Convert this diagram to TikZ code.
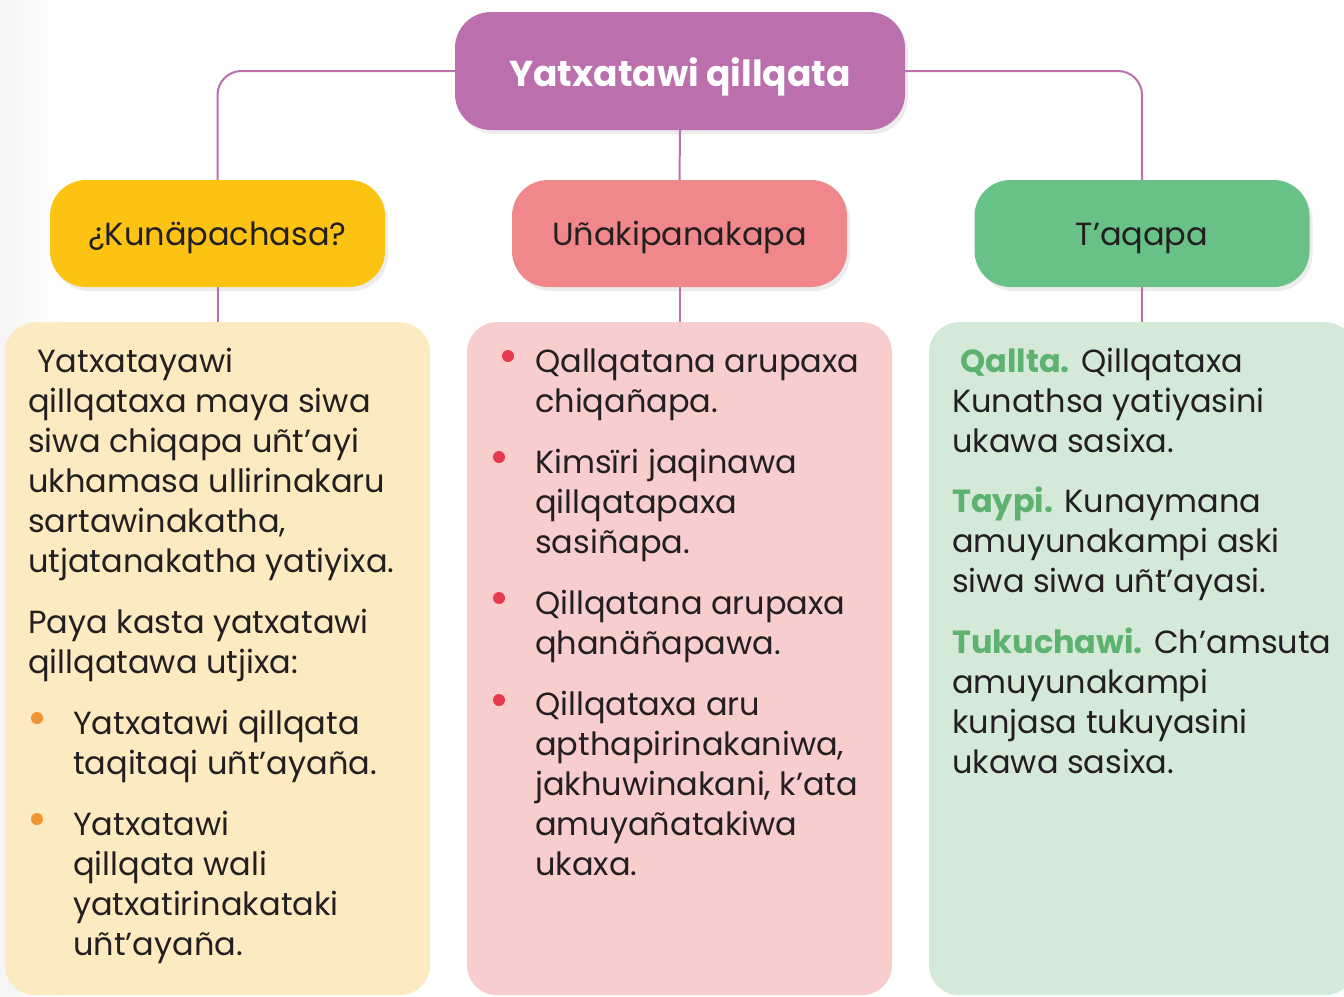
\documentclass[tikz,border=0pt]{standalone}
\usepackage{fontspec}
\setmainfont{Poppins}
\usepackage{xcolor}
\usetikzlibrary{shadows}

\definecolor{lnk}{HTML}{BC6FAD}
\definecolor{topfill}{HTML}{BC6FAD}
\definecolor{yhfill}{HTML}{FCC313}
\definecolor{phfill}{HTML}{F0888B}
\definecolor{ghfill}{HTML}{68C186}
\definecolor{ypfill}{HTML}{FCEAC0}
\definecolor{ppfill}{HTML}{F8CDCD}
\definecolor{gpfill}{HTML}{D5E9D9}
\definecolor{bulor}{HTML}{EE9430}
\definecolor{bulred}{HTML}{E83A4F}
\definecolor{tgreen}{HTML}{5DB26F}
\definecolor{txtdark}{HTML}{231F20}

\newcommand\bodyfont{\fontsize{32}{40}\selectfont}

\begin{document}
\begin{tikzpicture}[x=1pt,y=-1pt,
    hbox/.style={rounded corners=36pt, minimum width=335pt, minimum height=107pt,
      font=\bodyfont, text=txtdark, text height=29pt, text depth=6pt,
      drop shadow={shadow xshift=3pt, shadow yshift=-4pt, opacity=0.15}},
    panel/.style={rounded corners=30pt, minimum width=425pt, minimum height=673pt, anchor=north},
    txt/.style={anchor=north west, inner sep=0pt, align=left, font=\bodyfont, text=txtdark},
    link/.style={draw=lnk, line width=2pt, rounded corners=24pt}]
  \useasboundingbox (0,0) rectangle (1344,996);
  \clip (0,0) rectangle (1344,996);

  % faint strip on the left edge
  \shade[left color=black!4, right color=white] (0,0) rectangle (60,996);

  % title and the three headings
  \node[hbox, fill=topfill, minimum width=450pt, minimum height=118pt,
    font=\fontsize{36}{40}\selectfont\bfseries, text=white,
    text height=36pt, text depth=6pt] (top) at (680,71) {Yatxatawi qillqata};
  \node[hbox, fill=yhfill] (yhead) at (217.5,233.5) {¿Kunäpachasa?};
  \node[hbox, fill=phfill] (phead) at (679.5,233.5) {Uñakipanakapa};
  \node[hbox, fill=ghfill] (ghead) at (1142,233.5) {T’aqapa};

  % panels
  \node[panel, fill=ypfill] (ypanel) at (217.5,322) {};
  \node[panel, fill=ppfill] (ppanel) at (679.5,322) {};
  \node[panel, fill=gpfill, minimum width=426pt] (gpanel) at (1142,322) {};

  % connectors
  \draw[link] (top.west) -| (yhead.north);
  \draw[link] (top.east) -| (ghead.north);
  \draw[link] (top.south) -- (phead.north);
  \draw[link] (yhead.south) -- (ypanel.north);
  \draw[link] (phead.south) -- (ppanel.north);
  \draw[link] (ghead.south) -- (gpanel.north);

  % yellow panel
  \node[txt] (ytxt1) at (28,344) {\strut\hspace*{9pt}Yatxatayawi\\qillqataxa maya siwa\\siwa chiqapa uñt’ayi\\ukhamasa ullirinakaru\\sartawinakatha,\\utjatanakatha yatiyixa.};
  \node[txt] (ytxt2) at (28,605) {\strut Paya kasta yatxatawi\\qillqatawa utjixa:};
  \fill[bulor] (37,718) circle (6);
  \node[txt] (yitem1) at (73,706) {\strut Yatxatawi qillqata\\taqitaqi uñt’ayaña.};
  \fill[bulor] (37,819) circle (6);
  \node[txt] (yitem2) at (73,807) {\strut Yatxatawi\\qillqata wali\\yatxatirinakataki\\uñt’ayaña.};

  % pink panel
  \fill[bulred] (508,356) circle (6);
  \node[txt] (pitem1) at (535,344) {\strut Qallqatana arupaxa\\chiqañapa.};
  \fill[bulred] (499,457) circle (6);
  \node[txt] (pitem2) at (535,445) {\strut Kimsïri jaqinawa\\qillqatapaxa\\sasiñapa.};
  \fill[bulred] (499,598) circle (6);
  \node[txt] (pitem3) at (535,586) {\strut Qillqatana arupaxa\\qhanäñapawa.};
  \fill[bulred] (499,700) circle (6);
  \node[txt] (pitem4) at (535,687) {\strut Qillqataxa aru\\apthapirinakaniwa,\\jakhuwinakani, k’ata\\amuyañatakiwa\\ukaxa.};

  % green panel
  \node[txt] (gtxt1) at (952,344) {\strut\hspace*{8pt}{\color{tgreen}\bfseries Qallta.} Qillqataxa\\Kunathsa yatiyasini\\ukawa sasixa.};
  \node[txt] (gtxt2) at (952,484) {\strut{\color{tgreen}\bfseries Taypi.} Kunaymana\\amuyunakampi aski\\siwa siwa uñt’ayasi.};
  \node[txt] (gtxt3) at (952,625) {\strut{\color{tgreen}\bfseries Tukuchawi.} Ch’amsuta\\amuyunakampi\\kunjasa tukuyasini\\ukawa sasixa.};
\end{tikzpicture}
\end{document}
